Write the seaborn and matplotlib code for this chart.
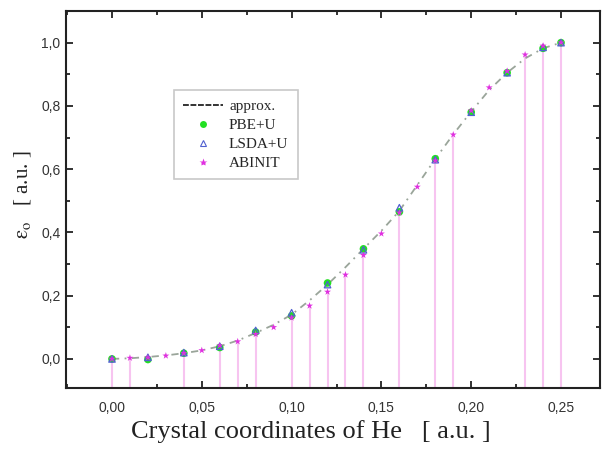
import numpy as np
import pandas as pd
import matplotlib
matplotlib.use("Agg")
import matplotlib.pyplot as plt
import seaborn as sns
from matplotlib.ticker import FuncFormatter, MultipleLocator
from matplotlib.lines import Line2D

# ---- data ----
x_abinit = [0.00, 0.01, 0.02, 0.03, 0.04, 0.05, 0.06, 0.07, 0.08, 0.09, 0.10, 0.11, 0.12,
            0.13, 0.14, 0.15, 0.16, 0.17, 0.18, 0.19, 0.20, 0.21, 0.22, 0.23, 0.24, 0.25]
y_abinit = [0.0, 0.003, 0.004, 0.010, 0.018, 0.027, 0.042, 0.055, 0.078, 0.100, 0.130, 0.168,
            0.212, 0.266, 0.328, 0.396, 0.462, 0.544, 0.627, 0.709, 0.785, 0.858, 0.910,
            0.962, 0.990, 1.000]

x_dft = [0.00, 0.02, 0.04, 0.06, 0.08, 0.10, 0.12, 0.14, 0.16, 0.18, 0.20, 0.22, 0.24, 0.25]
y_pbe = [0.0, -0.002, 0.018, 0.036, 0.085, 0.136, 0.240, 0.348, 0.465, 0.633, 0.780, 0.905,
         0.982, 1.000]
y_lsda = [0.0, 0.005, 0.020, 0.040, 0.090, 0.146, 0.235, 0.345, 0.478, 0.630, 0.780, 0.905,
          0.985, 1.000]

x_approx = x_abinit
y_approx = [0.0, 0.002, 0.006, 0.011, 0.018, 0.027, 0.040, 0.058, 0.082, 0.108, 0.140, 0.185,
            0.235, 0.290, 0.348, 0.405, 0.468, 0.550, 0.632, 0.710, 0.782, 0.850, 0.905,
            0.950, 0.982, 1.000]

x_stems = [0.00, 0.01, 0.04, 0.06, 0.07, 0.08, 0.10, 0.11, 0.12, 0.13, 0.14, 0.16, 0.18,
           0.19, 0.23, 0.24, 0.25]

x_ticks = [0.00, 0.05, 0.10, 0.15, 0.20, 0.25]
y_ticks = [0.0, 0.2, 0.4, 0.6, 0.8, 1.0]

series_labels = ["approx.", "PBE+U", "LSDA+U", "ABINIT"]
x_label = "Crystal coordinates of He   [ a.u. ]"
y_label = r"$\mathrm{\varepsilon_o}$   [ a.u. ]"

# ---- figure ----
sns.set_style("ticks")
plt.rcParams["font.family"] = ["Liberation Sans", "DejaVu Sans"]
plt.rcParams["mathtext.fontset"] = "stix"

fig = plt.figure(figsize=(6.03, 4.5), dpi=100)
ax = fig.add_axes([66 / 603, 1 - 388 / 450, (600 - 66) / 603, (388 - 11) / 450])

ymin, ymax = -0.092, 1.10
ax.set_xlim(-0.0256, 0.2717)
ax.set_ylim(ymin, ymax)

abinit_map = dict(zip(x_abinit, y_abinit))
stem_tops = [abinit_map[x] for x in x_stems]
ax.vlines(x_stems, ymin, stem_tops, colors="#f7c4f0", linewidth=1.5, zorder=1)

df_abinit = pd.DataFrame({"x": x_abinit, "y": y_abinit})
df_dft = pd.DataFrame({"x": x_dft, "pbe": y_pbe, "lsda": y_lsda})
df_approx = pd.DataFrame({"x": x_approx, "y": y_approx})

sns.lineplot(data=df_approx, x="x", y="y", ax=ax, color="#9aa59a", linewidth=1.3,
             linestyle=(0, (4, 3, 1, 3)), zorder=2)
sns.scatterplot(data=df_dft, x="x", y="pbe", ax=ax, color="#22e022", s=30, marker="o",
                edgecolor="none", zorder=3)
sns.scatterplot(data=df_dft, x="x", y="lsda", ax=ax, marker="^", s=22,
                facecolor="none", edgecolor="#5060d0", linewidth=0.9, zorder=4)
sns.scatterplot(data=df_abinit, x="x", y="y", ax=ax, color="#e030e0", s=28, marker="*",
                edgecolor="none", zorder=5)

ax.set_xticks(x_ticks)
ax.set_yticks(y_ticks)
ax.xaxis.set_minor_locator(MultipleLocator(0.025))
ax.yaxis.set_minor_locator(MultipleLocator(0.1))
ax.xaxis.set_major_formatter(FuncFormatter(lambda v, p: f"{v:.2f}".replace(".", ",")))
ax.yaxis.set_major_formatter(FuncFormatter(lambda v, p: f"{v:.1f}".replace(".", ",")))
ax.tick_params(which="both", direction="in", top=True, right=True, width=1.3, color="#222222")
ax.tick_params(which="major", length=5, labelsize=10, labelcolor="#333333")
ax.tick_params(axis="x", which="major", pad=9)
ax.tick_params(axis="y", which="major", pad=4)
ax.tick_params(which="minor", length=3)
for s in ax.spines.values():
    s.set_visible(True)
    s.set_linewidth(1.5)
    s.set_color("#222222")

ax.set_xlabel(x_label, family=["Liberation Serif", "DejaVu Serif"], fontsize=19,
              color="#222222")
ax.xaxis.set_label_coords((310.5 - 66) / 534, (388 - 438) / 377, transform=ax.transAxes)
ax.xaxis.label.set_va("baseline")
ax.set_ylabel(y_label, family=["Liberation Serif", "DejaVu Serif"], fontsize=15,
              color="#222222")
ax.yaxis.set_label_coords(-0.061, (388 - 195) / 377, transform=ax.transAxes)

handles = [
    Line2D([], [], color="#111111", linestyle=(0, (3.5, 1)), linewidth=1.2),
    Line2D([], [], marker="o", color="#22e022", linestyle="none", markersize=5,
           markeredgecolor="none"),
    Line2D([], [], marker="^", color="#5060d0", linestyle="none", markersize=4,
           markerfacecolor="none", markeredgewidth=0.8),
    Line2D([], [], marker="*", color="#e030e0", linestyle="none", markersize=6,
           markeredgecolor="none"),
]
leg = ax.legend(handles, series_labels, loc="upper left",
                bbox_to_anchor=((174 - 66) / 534, (388 - 90) / 377), borderaxespad=0,
                prop={"family": ["Liberation Serif", "DejaVu Serif"], "size": 11},
                frameon=True, fancybox=False, edgecolor="#bbbbbb", handlelength=2.6,
                handletextpad=0.4, labelspacing=0.35, borderpad=0.6)
leg.get_frame().set_linewidth(1.2)

fig.savefig("out.png", dpi=100)
